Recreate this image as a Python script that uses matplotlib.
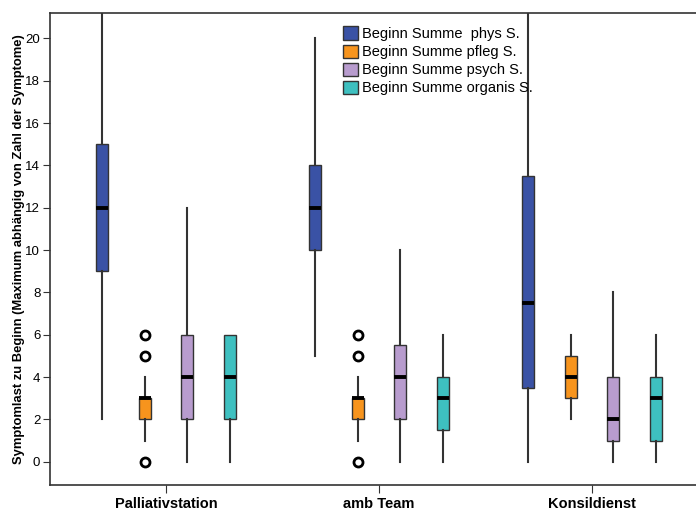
import matplotlib.pyplot as plt
from matplotlib.patches import Patch

plt.rcParams['font.family'] = ['Liberation Sans', 'DejaVu Sans']

groups = ["Palliativstation", "amb Team", "Konsildienst"]
series = ["Beginn Summe  phys S.", "Beginn Summe pfleg S.",
          "Beginn Summe psych S.", "Beginn Summe organis S."]
colors = ["#3A52A5", "#F7941D", "#B89CCE", "#3EC0C0"]

# per group: one entry per series (phys, pfleg, psych, organis)
whislo = [[2, 1, 0, 0], [5, 1, 0, 0], [0, 2, 0, 0]]
q1 = [[9, 2, 2, 2], [10, 2, 2, 1.5], [3.5, 3, 1, 1]]
med = [[12, 3, 4, 4], [12, 3, 4, 3], [7.5, 4, 2, 3]]
q3 = [[15, 3, 6, 6], [14, 3, 5.5, 4], [13.5, 5, 4, 4]]
whishi = [[23, 4, 12, 6], [20, 4, 10, 6], [23, 6, 8, 6]]
fliers = [[[], [5, 6, 0], [], []],
          [[], [5, 6, 0], [], []],
          [[], [], [], []]]

offsets = [-0.3, -0.1, 0.1, 0.3]

fig = plt.figure(figsize=(6.96, 5.12), dpi=100)
ax = fig.add_axes([50 / 696, 27 / 512, 658 / 696, 472 / 512])

for g in range(len(groups)):
    for s in range(len(series)):
        st = dict(whislo=whislo[g][s], q1=q1[g][s], med=med[g][s],
                  q3=q3[g][s], whishi=whishi[g][s], fliers=fliers[g][s])
        ax.bxp([st], positions=[g + 1 + offsets[s]], widths=0.055,
               showcaps=False, patch_artist=True,
               boxprops=dict(facecolor=colors[s], edgecolor="#333333", linewidth=1.0),
               medianprops=dict(color="black", linewidth=2.8, solid_capstyle="butt"),
               whiskerprops=dict(color="#333333", linewidth=1.5),
               flierprops=dict(marker="o", markerfacecolor="white",
                               markeredgecolor="black", markersize=6.5,
                               markeredgewidth=2))

ax.set_xlim(0.455, 3.545)
ax.set_ylim(-1.1, 21.2)
ax.set_yticks(range(0, 21, 2))
ax.set_xticks([1, 2, 3])
ax.set_xticklabels(groups, fontsize=10.5, fontweight="bold")
ax.tick_params(axis="y", labelsize=9.5, length=5, color="#333333", pad=2)
ax.tick_params(axis="x", length=6, color="#333333", pad=3)
for sp in ax.spines.values():
    sp.set_color("#333333")
    sp.set_linewidth(1.2)
ax.set_ylabel("Symptomlast zu Beginn (Maximum abhängig von Zahl der Symptome)",
              fontsize=9.4, fontweight="bold", labelpad=0)

handles = [Patch(facecolor=c, edgecolor="#333333", label=l) for c, l in zip(colors, series)]
ax.legend(handles=handles, loc="upper left", bbox_to_anchor=(0.432, 0.99),
          frameon=False, fontsize=10.5, handlelength=1.0, handleheight=1.0,
          handletextpad=0.3, labelspacing=0.25, borderaxespad=0.2)

fig.savefig("out.png", dpi=100)
